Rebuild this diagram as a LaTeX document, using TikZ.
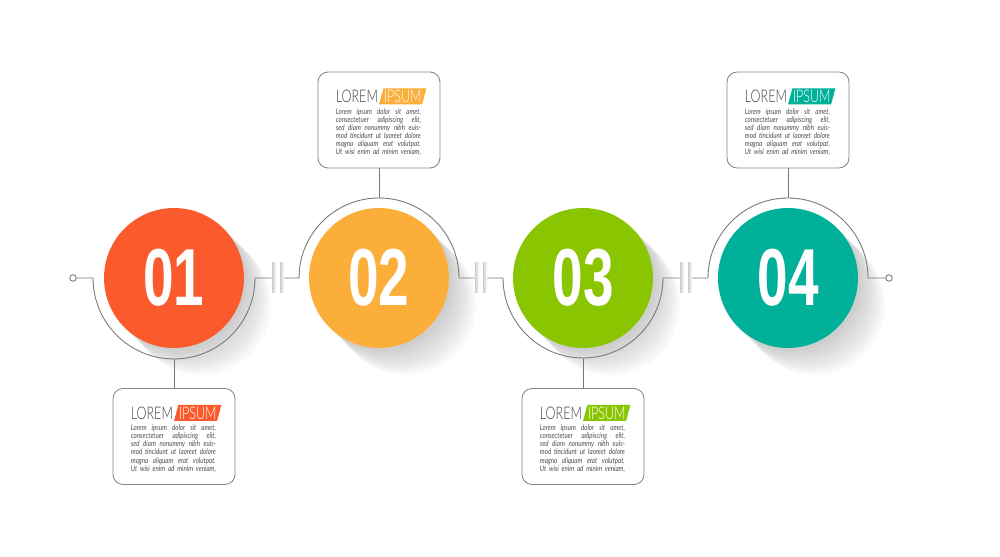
\documentclass[tikz,border=0pt]{standalone}
\usepackage{fontspec}
\usepackage{tikz}
\usetikzlibrary{positioning,shapes.geometric}

\setmainfont{Lato}
\newfontfamily\numfont{Liberation Sans}[FakeStretch=0.68]
\newfontfamily\titlefont{Lato Light}[FakeStretch=0.72]
\newfontfamily\bodyfont{Lato}[FakeStretch=0.8]

\definecolor{stepA}{RGB}{250,90,44}
\definecolor{stepB}{RGB}{251,174,58}
\definecolor{stepC}{RGB}{138,197,2}
\definecolor{stepD}{RGB}{0,176,152}
\definecolor{wire}{RGB}{120,120,120}

\newcommand{\loremtext}{%
    \makebox[1.7cm][s]{Lorem ipsum dolor sit amet,}\\
    \makebox[1.7cm][s]{consectetuer adipiscing elit,}\\
    \makebox[1.7cm][s]{sed diam nonummy nibh euis-}\\
    \makebox[1.7cm][s]{mod tincidunt ut laoreet dolore}\\
    \makebox[1.7cm][s]{magna aliquam erat volutpat.}\\
    \makebox[1.7cm][s]{Ut wisi enim ad minim veniam,}}

\begin{document}
\begin{tikzpicture}[x=0.02cm, y=0.02cm,
        wireline/.style={draw=wire, line width=0.5pt},
        numdisc/.style={circle, minimum size=2.8cm, inner sep=0pt, text=white,
            font=\numfont\bfseries\fontsize{46}{46}\selectfont},
        infobox/.style={draw=wire!90, line width=0.5pt, rounded corners=0.2cm,
            minimum width=2.44cm, minimum height=1.92cm, fill=white},
        lorem/.style={inner xsep=0pt, inner ysep=1pt, text height=7.1pt, text depth=0pt,
            text=black!75, font=\titlefont\fontsize{9.9}{10}\selectfont},
        ipsum/.style={trapezium, trapezium left angle=75, trapezium right angle=105,
            inner xsep=0.3pt, inner ysep=1pt, text height=7.1pt, text depth=0pt,
            text=white, font=\titlefont\fontsize{9.9}{10}\selectfont},
        body/.style={inner sep=0pt, align=left, text=black!70,
            font=\bodyfont\itshape\fontsize{4.4}{4.6}\selectfont},
        endpin/.style={circle, draw=wire, fill=white, line width=0.5pt,
            inner sep=0pt, minimum size=0.13cm},
        gapbar/.style={left color=black!20, right color=white,
            minimum width=0.08cm, minimum height=0.6cm, inner sep=0pt}]

        \useasboundingbox (0,0) rectangle (1000,557);

        % long soft shadows
        \foreach \x in {174, 379, 583, 788}
            \foreach \s in {3,6,...,27}
                \fill[black, opacity=0.022] (\x+\s, 279-\s) circle (70);

        \node[numdisc, fill=stepA] (d1) at (174,279) {01};
        \node[numdisc, fill=stepB] (d2) at (379,279) {02};
        \node[numdisc, fill=stepC] (d3) at (583,279) {03};
        \node[numdisc, fill=stepD] (d4) at (788,279) {04};

        \node[endpin] (pinL) at (73,279) {};
        \node[endpin] (pinR) at (889,279) {};

        \node[gapbar] (g1a) at (274,279) {};
        \node[gapbar] (g1b) at (282,279) {};
        \node[gapbar] (g2a) at (477,279) {};
        \node[gapbar] (g2b) at (485,279) {};
        \node[gapbar] (g3a) at (682,279) {};
        \node[gapbar] (g3b) at (690,279) {};

        \draw[wireline]
            (pinL) -- ([xshift=-1.62cm]d1.center) arc (180:360:1.62cm) -- (g1a);

        \draw[wireline]
            (g1b) -- ([xshift=-1.6cm]d2.center) arc (180:0:1.6cm) -- (g2a);

        \draw[wireline]
            (g2b) -- ([xshift=-1.6cm]d3.center) arc (180:360:1.6cm) -- (g3a);

        \draw[wireline]
            (g3b) -- ([xshift=-1.6cm]d4.center) arc (180:0:1.6cm) -- (pinR);

        \node[infobox] (b1) at (174,120.5) {};
        \node[infobox] (b2) at (379,437) {};
        \node[infobox] (b3) at (583,120.5) {};
        \node[infobox] (b4) at (788,437) {};

        \draw[wireline]
            ([yshift=-1.62cm]d1.center) -- (b1)
            ([yshift=1.6cm]d2.center) -- (b2)
            ([yshift=-1.6cm]d3.center) -- (b3)
            ([yshift=1.6cm]d4.center) -- (b4);

        \foreach \i/\c in {1/stepA, 2/stepB, 3/stepC, 4/stepD} {
            \node[lorem, anchor=base west] (l\i) at ([shift={(18,-31)}]b\i.north west) {LOREM};
            \node[ipsum, fill=\c, right=1.5pt of l\i] (i\i) {IPSUM};
            \node[body, anchor=north west] (p\i) at ([yshift=-2]l\i.south west) {\loremtext};
        }

\end{tikzpicture}
\end{document}
